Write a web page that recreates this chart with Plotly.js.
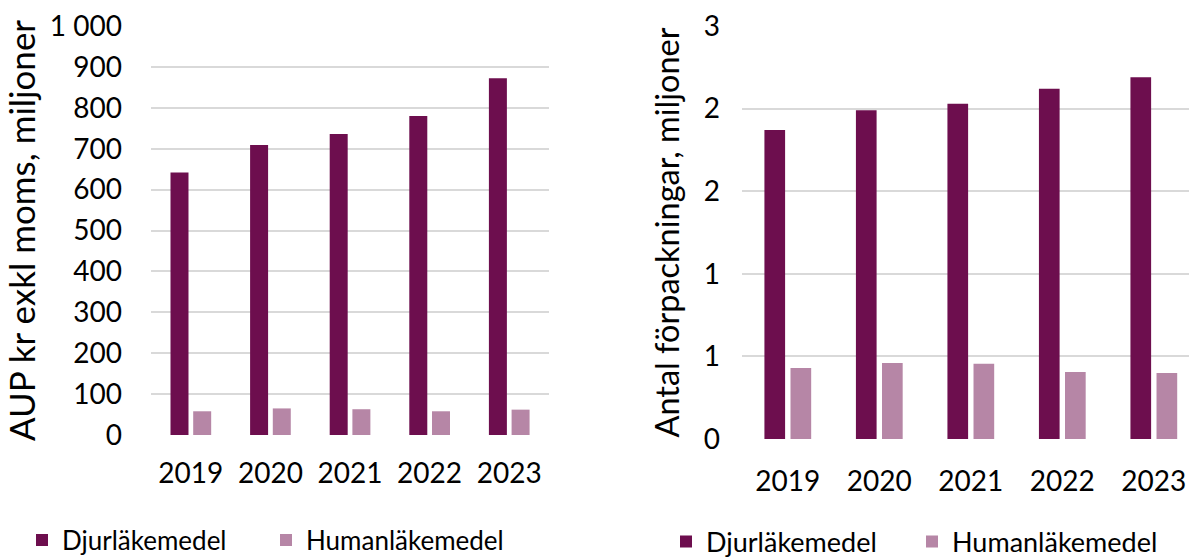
<!DOCTYPE html>
<html>
<head>
<meta charset="utf-8">
<script src="https://cdn.plot.ly/plotly-3.0.1.min.js"></script>
<style>html,body{margin:0;padding:0;background:#fff;}#chart{width:1189px;height:558px;}</style>
</head>
<body>
<div id="chart"></div>
<script>
const years = ['2019', '2020', '2021', '2022', '2023'];
const seriesNames = ['Djurläkemedel', 'Humanläkemedel'];
// Left: AUP kr exkl moms, miljoner
const aupDjur = [642, 709, 736, 780, 872];
const aupHuman = [58, 65, 63, 58, 62];
// Right: Antal förpackningar, miljoner
const antalDjur = [1.87, 1.99, 2.03, 2.12, 2.19];
const antalHuman = [0.43, 0.46, 0.455, 0.405, 0.40];
const leftTickVals = [0, 100, 200, 300, 400, 500, 600, 700, 800, 900, 1000];
const leftTickText = ['0', '100', '200', '300', '400', '500', '600', '700', '800', '900', '1 000'];
const rightTickVals = [0, 0.5, 1, 1.5, 2, 2.5];
const rightTickText = ['0', '1', '1', '2', '2', '3'];

const DARK = '#6D0E4E';
const LIGHT = '#B686A6';
const FONT = 'Lato, "Open Sans", sans-serif';

function bar(x, y, name, color, xa, ya, lg, off) {
  return {
    type: 'bar', x: x, y: y, name: name, xaxis: xa, yaxis: ya, legend: lg,
    marker: {color: color}, offset: off, width: 0.226, hoverinfo: 'x+y'
  };
}

const data = [
  bar(years, aupDjur, seriesNames[0], DARK, 'x', 'y', 'legend', -0.255),
  bar(years, aupHuman, seriesNames[1], LIGHT, 'x', 'y', 'legend', 0.03),
  bar(years, antalDjur, seriesNames[0], DARK, 'x2', 'y2', 'legend2', -0.255),
  bar(years, antalHuman, seriesNames[1], LIGHT, 'x2', 'y2', 'legend2', 0.03)
];

const gridCol = '#D9D9D9';
const tickFont = {family: FONT, size: 28, color: '#000'};

const layout = {
  width: 1189, height: 558,
  margin: {l: 0, r: 0, t: 26, b: 119, autoexpand: false},
  paper_bgcolor: '#fff', plot_bgcolor: '#fff',
  barmode: 'overlay',
  font: {family: FONT, color: '#000'},
  xaxis: {
    domain: [151/1189, 549/1189], anchor: 'y', type: 'category',
    range: [-0.5, 4.5], showgrid: false, zeroline: false, showline: false,
    ticks: '', tickfont: tickFont, ticklabelstandoff: 19, fixedrange: true
  },
  yaxis: {
    domain: [4/413, 1], anchor: 'x', range: [0, 1000],
    tickvals: leftTickVals, ticktext: leftTickText,
    showgrid: true, gridcolor: gridCol, gridwidth: 2, zeroline: false, showline: false,
    ticks: '', tickfont: tickFont, ticklabelstandoff: 28,
    title: {text: 'AUP kr exkl moms, miljoner', font: {family: FONT, size: 35, color: '#000'}, standoff: 10}, fixedrange: true
  },
  xaxis2: {
    domain: [742/1189, 1], anchor: 'y2', type: 'category',
    range: [-0.5, 4.385], showgrid: false, zeroline: false, showline: false,
    ticks: '', tickfont: tickFont, ticklabelstandoff: 23, fixedrange: true
  },
  yaxis2: {
    domain: [0, 1], anchor: 'x2', range: [0, 2.5],
    tickvals: rightTickVals, ticktext: rightTickText,
    showgrid: true, gridcolor: gridCol, gridwidth: 2, zeroline: false, showline: false,
    ticks: '', tickfont: tickFont, ticklabelstandoff: 21,
    title: {text: 'Antal förpackningar, miljoner', font: {family: FONT, size: 32.5, color: '#000'}, standoff: 14}, fixedrange: true
  },
  legend: {
    orientation: 'h', x: 22/1189, xanchor: 'left', y: (439-540)/413, yanchor: 'middle',
    font: {family: FONT, size: 26, color: '#000'}, entrywidth: 199, entrywidthmode: 'pixels',
    bgcolor: 'rgba(0,0,0,0)', traceorder: 'normal'
  },
  legend2: {
    orientation: 'h', x: 666/1189, xanchor: 'left', y: (439-542)/413, yanchor: 'middle',
    font: {family: FONT, size: 27, color: '#000'}, entrywidth: 201, entrywidthmode: 'pixels',
    bgcolor: 'rgba(0,0,0,0)', traceorder: 'normal'
  },
  showlegend: true
};

Plotly.newPlot('chart', data, layout, {displayModeBar: false, responsive: false, staticPlot: false});
</script>
</body>
</html>
